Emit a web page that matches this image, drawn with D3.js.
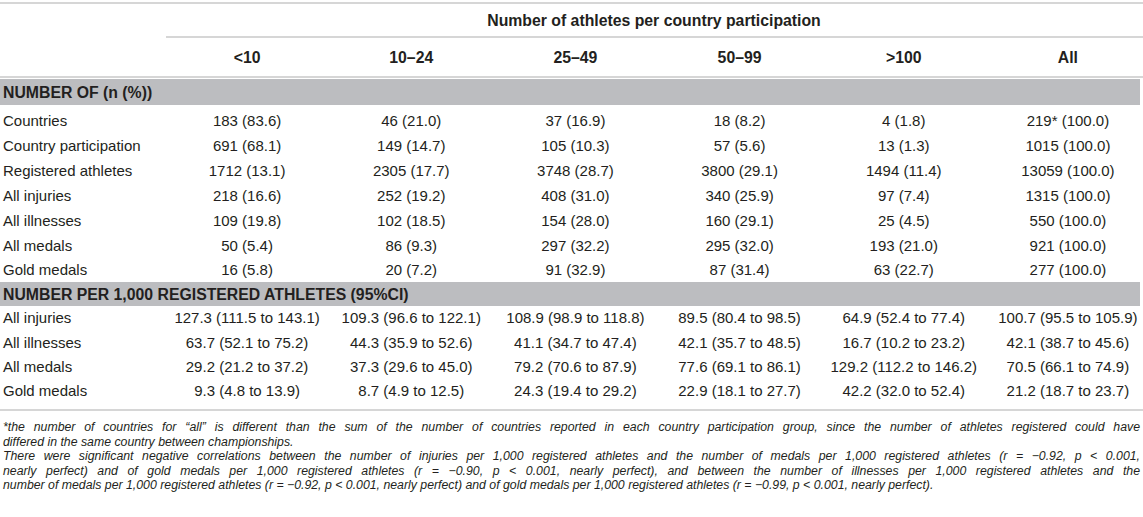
<!DOCTYPE html>
<html>
<head>
<meta charset="utf-8">
<script src="https://cdn.jsdelivr.net/npm/d3@7"></script>
<style>
  html, body { margin: 0; padding: 0; background: #fff; }
  svg { display: block; font-family: "Liberation Sans", Arial, sans-serif; }
</style>
</head>
<body>
<div id="chart"></div>
<script>
// Table: athletes per country participation

const width = 1143,
    height = 517,
    labelW = 165,
    bodySize = 15,
    boldSize = 15.8,
    footSize = 12.3,
    textColor = "#231f20",
    ruleColor = "#c9c9c9",
    bandColor = "#bcbdc0";

const spanTitle = "Number of athletes per country participation";
const groups = ["<10", "10\u201324", "25\u201349", "50\u201399", ">100", "All"];

const countSection = "NUMBER OF (n (%))";
const countLabels = ["Countries", "Country participation", "Registered athletes",
    "All injuries", "All illnesses", "All medals", "Gold medals"];
const counts = [
    [183, 46, 37, 18, 4, 219],
    [691, 149, 105, 57, 13, 1015],
    [1712, 2305, 3748, 3800, 1494, 13059],
    [218, 252, 408, 340, 97, 1315],
    [109, 102, 154, 160, 25, 550],
    [50, 86, 297, 295, 193, 921],
    [16, 20, 91, 87, 63, 277]
];
const countPct = [
    [83.6, 21.0, 16.9, 8.2, 1.8, 100.0],
    [68.1, 14.7, 10.3, 5.6, 1.3, 100.0],
    [13.1, 17.7, 28.7, 29.1, 11.4, 100.0],
    [16.6, 19.2, 31.0, 25.9, 7.4, 100.0],
    [19.8, 18.5, 28.0, 29.1, 4.5, 100.0],
    [5.4, 9.3, 32.2, 32.0, 21.0, 100.0],
    [5.8, 7.2, 32.9, 31.4, 22.7, 100.0]
];
const starredCell = [0, 5]; // "219*" -> see footnote

const rateSection = "NUMBER PER 1,000 REGISTERED ATHLETES (95%CI)";
const rateLabels = ["All injuries", "All illnesses", "All medals", "Gold medals"];
const rates = [
    [127.3, 109.3, 108.9, 89.5, 64.9, 100.7],
    [63.7, 44.3, 41.1, 42.1, 16.7, 42.1],
    [29.2, 37.3, 79.2, 77.6, 129.2, 70.5],
    [9.3, 8.7, 24.3, 22.9, 42.2, 21.2]
];
const rateLo = [
    [111.5, 96.6, 98.9, 80.4, 52.4, 95.5],
    [52.1, 35.9, 34.7, 35.7, 10.2, 38.7],
    [21.2, 29.6, 70.6, 69.1, 112.2, 66.1],
    [4.8, 4.9, 19.4, 18.1, 32.0, 18.7]
];
const rateHi = [
    [143.1, 122.1, 118.8, 98.5, 77.4, 105.9],
    [75.2, 52.6, 47.4, 48.5, 23.2, 45.6],
    [37.2, 45.0, 87.9, 86.1, 146.2, 74.9],
    [13.9, 12.5, 29.2, 27.7, 52.4, 23.7]
];

const footLines = [
    "*the number of countries for \u201call\u201d is different than the sum of the number of countries reported in each country participation group, since the number of athletes registered could have",
    "differed in the same country between championships.",
    "There were significant negative correlations between the number of injuries per 1,000 registered athletes and the number of medals per 1,000 registered athletes (r = \u22120.92, p < 0.001,",
    "nearly perfect) and of gold medals per 1,000 registered athletes (r = \u22120.90, p < 0.001, nearly perfect), and between the number of illnesses per 1,000 registered athletes and the",
    "number of medals per 1,000 registered athletes (r = \u22120.92, p < 0.001, nearly perfect) and of gold medals per 1,000 registered athletes (r = \u22120.99, p < 0.001, nearly perfect)."
];
const footJustify = [true, false, true, true, false];

const svg = d3.select("#chart")
    .append("svg")
    .attr("width", width)
    .attr("height", height)
    .attr("viewBox", [0, 0, width, height]);

// columns
const x = d3.scaleBand()
    .domain(groups)
    .range([labelW, width + 7]);
const xc = g => x(g) + x.bandwidth() / 2;

// rows (centre lines)
const y1 = d3.scaleLinear().domain([0, countLabels.length - 1]).range([121, 270]);
const y2 = d3.scaleLinear().domain([0, rateLabels.length - 1]).range([318, 391]);
const yFoot = d3.scaleLinear().domain([0, footLines.length - 1]).range([427, 485]);

const fmt = d3.format(".1f");

function rule(yPos, x0 = 0) {
    svg.append("line")
        .attr("x1", x0).attr("x2", width)
        .attr("y1", yPos).attr("y2", yPos)
        .attr("stroke", ruleColor)
        .attr("stroke-width", 1.5);
}

function band(y0, y1_, label) {
    svg.append("rect")
        .attr("x", 0).attr("y", y0)
        .attr("width", width - 3).attr("height", y1_ - y0)
        .attr("fill", bandColor);
    svg.append("text")
        .attr("x", 3)
        .attr("y", (y0 + y1_) / 2)
        .attr("dy", "0.36em")
        .attr("font-size", boldSize)
        .attr("font-weight", "bold")
        .attr("fill", textColor)
        .text(label);
}

// header
rule(3);
svg.append("text")
    .attr("x", (labelW + width) / 2)
    .attr("y", 20)
    .attr("dy", "0.36em")
    .attr("text-anchor", "middle")
    .attr("font-size", boldSize)
    .attr("font-weight", "bold")
    .attr("fill", textColor)
    .text(spanTitle);
rule(37, labelW + 1);

svg.append("g")
    .selectAll("text")
    .data(groups)
    .join("text")
    .attr("x", d => xc(d))
    .attr("y", 57)
    .attr("dy", "0.36em")
    .attr("text-anchor", "middle")
    .attr("font-size", boldSize)
    .attr("font-weight", "bold")
    .attr("fill", textColor)
    .text(d => d);
rule(77);

// section 1
band(79, 105, countSection);

function rowGroup(labels, yScale, cellText) {
    const g = svg.append("g")
        .attr("font-size", bodySize)
        .attr("fill", textColor);
    const rows = g.selectAll("g")
        .data(labels)
        .join("g")
        .attr("transform", (d, i) => `translate(0,${yScale(i)})`);
    rows.append("text")
        .attr("x", 3)
        .attr("dy", "0.36em")
        .text(d => d);
    rows.selectAll("text.cell")
        .data((d, i) => groups.map((gname, j) => ({ g: gname, i, j })))
        .join("text")
        .attr("class", "cell")
        .attr("x", d => xc(d.g))
        .attr("dy", "0.36em")
        .attr("text-anchor", "middle")
        .text(d => cellText(d.i, d.j));
}

rowGroup(countLabels, y1, (i, j) => {
    const star = (i === starredCell[0] && j === starredCell[1]) ? "*" : "";
    return `${counts[i][j]}${star} (${fmt(countPct[i][j])})`;
});

// section 2
band(282, 306, rateSection);
rowGroup(rateLabels, y2, (i, j) =>
    `${fmt(rates[i][j])} (${fmt(rateLo[i][j])} to ${fmt(rateHi[i][j])})`);

rule(410);

// footnote, justified lines
const foot = svg.append("g")
    .attr("font-size", footSize)
    .attr("font-style", "italic")
    .attr("fill", textColor);

const footText = foot.selectAll("text")
    .data(footLines)
    .join("text")
    .attr("x", 3)
    .attr("y", (d, i) => yFoot(i))
    .attr("dy", "0.36em")
    .text(d => d);

footText.each(function (d, i) {
    if (!footJustify[i]) return;
    const w = this.getComputedTextLength();
    const spaces = d.split(" ").length - 1;
    const target = width - 6;
    d3.select(this).attr("word-spacing", (target - w) / spaces);
});
</script>
</body>
</html>
